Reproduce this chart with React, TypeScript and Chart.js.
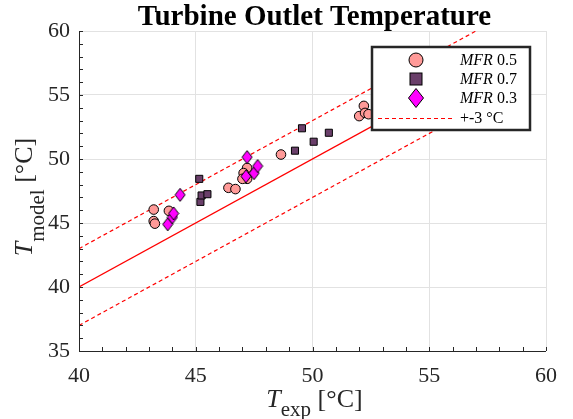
import React, { useEffect, useRef } from 'react';
import { Chart, registerables } from 'chart.js';

Chart.register(...registerables);

const chartTitle = 'Turbine Outlet Temperature';
const xMin = 40;
const xMax = 60;
const yMin = 35;
const yMax = 60;
const majorStep = 5;
const minorStep = 1;

const mfr05X = [43.2, 43.2, 43.25, 43.85, 46.4, 46.7, 47.2, 47.05, 47.2, 47.0, 48.65, 52.0, 52.2, 52.25, 52.4];
const mfr05Y = [46.05, 45.15, 44.95, 45.95, 47.75, 47.65, 49.3, 48.9, 48.45, 48.45, 50.35, 53.35, 54.15, 53.6, 53.5];
const mfr07X = [45.15, 45.2, 45.25, 45.5, 49.25, 49.55, 50.05, 50.7];
const mfr07Y = [48.45, 46.65, 47.15, 47.25, 50.65, 52.4, 51.35, 52.05];
const mfr03X = [43.8, 44.0, 44.05, 44.33, 47.2, 47.15, 47.5, 47.65];
const mfr03Y = [44.9, 45.45, 45.75, 47.2, 50.15, 48.65, 48.9, 49.45];

const refX = [40, 57];
const refY = [40, 57];
const upperY = [43, 60];
const lowerY = [37, 54];

const legendNames = ['MFR', 'MFR', 'MFR', '+-3 °C'];
const legendValues = ['0.5', '0.7', '0.3', ''];

const serif = '"Liberation Serif", "DejaVu Serif", serif';
const colCircle = '#ff9a98';
const colSquare = '#6a3f6a';
const colDiamond = '#ff00ff';
const colRed = '#ff0000';
const axisCol = '#262626';

function makeDiamond(w: number, h: number): HTMLCanvasElement {
  const c = document.createElement('canvas');
  c.width = w + 2;
  c.height = h + 2;
  const g = c.getContext('2d')!;
  const cx = c.width / 2;
  const cy = c.height / 2;
  g.beginPath();
  g.moveTo(cx, cy - h / 2);
  g.lineTo(cx + w / 2, cy);
  g.lineTo(cx, cy + h / 2);
  g.lineTo(cx - w / 2, cy);
  g.closePath();
  g.fillStyle = colDiamond;
  g.fill();
  g.strokeStyle = '#000';
  g.lineWidth = 1;
  g.stroke();
  return c;
}

type Piece = { text: string; font: string; dy: number };

function drawPieces(ctx: CanvasRenderingContext2D, pieces: Piece[], cx: number, baseY: number) {
  let total = 0;
  const widths = pieces.map((p) => {
    ctx.font = p.font;
    const w = ctx.measureText(p.text).width;
    total += w;
    return w;
  });
  let x = cx - total / 2;
  ctx.textAlign = 'left';
  ctx.textBaseline = 'alphabetic';
  pieces.forEach((p, i) => {
    ctx.font = p.font;
    ctx.fillText(p.text, x, baseY + p.dy);
    x += widths[i];
  });
}

const decorPlugin = {
  id: 'decor',
  afterDraw(chart: any) {
    const ctx: CanvasRenderingContext2D = chart.ctx;
    const { left, right, top, bottom } = chart.chartArea;
    const xs = chart.scales.x;
    const ys = chart.scales.y;
    ctx.save();
    // axes
    ctx.strokeStyle = axisCol;
    ctx.lineWidth = 1;
    ctx.beginPath();
    ctx.moveTo(left + 0.5, top);
    ctx.lineTo(left + 0.5, bottom + 0.5);
    ctx.lineTo(right, bottom + 0.5);
    ctx.stroke();
    // inward ticks
    ctx.beginPath();
    for (let v = xMin; v <= xMax; v += minorStep) {
      const px = Math.round(xs.getPixelForValue(v)) + 0.5;
      ctx.moveTo(px, bottom);
      ctx.lineTo(px, bottom - 4);
    }
    for (let v = yMin; v <= yMax; v += minorStep) {
      const py = Math.round(ys.getPixelForValue(v)) + 0.5;
      ctx.moveTo(left, py);
      ctx.lineTo(left + 4, py);
    }
    ctx.stroke();

    // title
    ctx.fillStyle = '#000';
    ctx.font = `bold 29px ${serif}`;
    ctx.textAlign = 'center';
    ctx.textBaseline = 'alphabetic';
    ctx.fillText(chartTitle, (left + right) / 2 + 2, 25);

    // x title
    ctx.fillStyle = axisCol;
    drawPieces(
      ctx,
      [
        { text: 'T', font: `italic 26px ${serif}`, dy: 0 },
        { text: 'exp', font: `21px ${serif}`, dy: 9 },
        { text: ' [°C]', font: `26px ${serif}`, dy: 0 },
      ],
      (left + right) / 2 + 2,
      407
    );

    // y title
    ctx.save();
    ctx.translate(32, (top + bottom) / 2 + 6);
    ctx.rotate(-Math.PI / 2);
    drawPieces(
      ctx,
      [
        { text: 'T', font: `italic 26px ${serif}`, dy: 0 },
        { text: 'model', font: `21px ${serif}`, dy: 12 },
        { text: ' [°C]', font: `26px ${serif}`, dy: 0 },
      ],
      0,
      0
    );
    ctx.restore();

    // legend
    const lx = 372, ly = 47, lw = 158, lh = 83;
    ctx.fillStyle = '#fff';
    ctx.fillRect(lx, ly, lw, lh);
    ctx.strokeStyle = axisCol;
    ctx.lineWidth = 2.5;
    ctx.strokeRect(lx, ly, lw, lh);
    const mx = 416;
    const rows = [60, 79, 98, 118];
    ctx.lineWidth = 1;
    ctx.strokeStyle = '#000';
    // circle
    ctx.beginPath();
    ctx.arc(mx, rows[0], 7, 0, Math.PI * 2);
    ctx.fillStyle = colCircle;
    ctx.fill();
    ctx.stroke();
    // square
    ctx.fillStyle = colSquare;
    ctx.fillRect(mx - 6, rows[1] - 6, 12, 12);
    ctx.strokeRect(mx - 6, rows[1] - 6, 12, 12);
    // diamond
    ctx.beginPath();
    ctx.moveTo(mx, rows[2] - 9.5);
    ctx.lineTo(mx + 7.5, rows[2]);
    ctx.lineTo(mx, rows[2] + 9.5);
    ctx.lineTo(mx - 7.5, rows[2]);
    ctx.closePath();
    ctx.fillStyle = colDiamond;
    ctx.fill();
    ctx.stroke();
    // dashed line
    ctx.strokeStyle = colRed;
    ctx.setLineDash([4, 3]);
    ctx.beginPath();
    ctx.moveTo(378, rows[3] + 0.5);
    ctx.lineTo(453, rows[3] + 0.5);
    ctx.stroke();
    ctx.setLineDash([]);
    // texts
    ctx.fillStyle = '#000';
    ctx.textAlign = 'left';
    ctx.textBaseline = 'alphabetic';
    for (let i = 0; i < 4; i++) {
      const by = rows[i] + 5;
      if (legendValues[i]) {
        ctx.font = `italic 16px ${serif}`;
        ctx.fillText(legendNames[i], 460, by);
        const w = ctx.measureText(legendNames[i]).width;
        ctx.font = `16px ${serif}`;
        ctx.fillText(' ' + legendValues[i], 460 + w, by);
      } else {
        ctx.font = `16px ${serif}`;
        ctx.fillText(legendNames[i], 460, by);
      }
    }
    ctx.restore();
  },
};

export default function App() {
  const ref = useRef<HTMLCanvasElement | null>(null);
  useEffect(() => {
    if (!ref.current) return;
    const diamond = makeDiamond(10, 13);
    const pts = (xs: number[], ys: number[]) => xs.map((x, i) => ({ x, y: ys[i] }));
    const chart = new Chart(ref.current, {
      type: 'scatter',
      data: {
        datasets: [
          {
            label: 'MFR 0.5',
            data: pts(mfr05X, mfr05Y),
            pointStyle: 'circle',
            pointRadius: 4.8,
            backgroundColor: colCircle,
            borderColor: '#000',
            borderWidth: 1,
            order: 3,
          },
          {
            label: 'MFR 0.7',
            data: pts(mfr07X, mfr07Y),
            pointStyle: 'rect',
            pointRadius: 5,
            backgroundColor: colSquare,
            borderColor: '#000',
            borderWidth: 1,
            order: 2,
          },
          {
            label: 'MFR 0.3',
            data: pts(mfr03X, mfr03Y),
            pointStyle: diamond as any,
            pointRadius: 6,
            backgroundColor: colDiamond,
            borderColor: '#000',
            borderWidth: 1,
            order: 1,
          },
          {
            type: 'line',
            label: 'y = x',
            data: pts(refX, refY),
            borderColor: colRed,
            borderWidth: 1.2,
            pointRadius: 0,
            showLine: true,
            fill: false,
            order: 5,
          } as any,
          {
            type: 'line',
            label: '+3',
            data: pts(refX, upperY),
            borderColor: colRed,
            borderWidth: 1.2,
            borderDash: [4, 3],
            pointRadius: 0,
            showLine: true,
            fill: false,
            order: 5,
          } as any,
          {
            type: 'line',
            label: '-3',
            data: pts(refX, lowerY),
            borderColor: colRed,
            borderWidth: 1.2,
            borderDash: [4, 3],
            pointRadius: 0,
            showLine: true,
            fill: false,
            order: 5,
          } as any,
        ],
      },
      options: {
        responsive: false,
        animation: false,
        layout: { padding: { left: 0, right: 27, top: 31, bottom: 0 } },
        plugins: { legend: { display: false }, title: { display: false }, tooltip: { enabled: false } },
        scales: {
          x: {
            type: 'linear',
            min: xMin,
            max: xMax,
            ticks: {
              stepSize: majorStep,
              padding: 12,
              color: axisCol,
              font: { family: serif, size: 22 },
              maxRotation: 0,
            },
            grid: { color: '#e2e2e2', drawTicks: false, lineWidth: 1 },
            border: { display: false },
            afterFit: (s: any) => {
              s.height = 68;
            },
          },
          y: {
            type: 'linear',
            min: yMin,
            max: yMax,
            ticks: {
              stepSize: majorStep,
              padding: 9,
              color: axisCol,
              font: { family: serif, size: 22 },
            },
            grid: { color: '#e2e2e2', drawTicks: false, lineWidth: 1 },
            border: { display: false },
            afterFit: (s: any) => {
              s.width = 79;
            },
          },
        },
      } as any,
      plugins: [decorPlugin],
    });
    return () => chart.destroy();
  }, []);
  return (
    <div style={{ position: 'absolute', left: 0, top: 0, width: 573, height: 419, background: '#fff' }}>
      <canvas ref={ref} width={573} height={419} style={{ display: 'block' }} />
    </div>
  );
}
